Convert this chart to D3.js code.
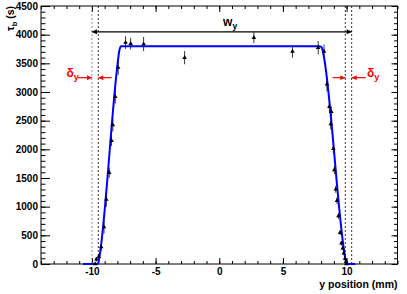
<!DOCTYPE html>
<html>
<head>
<meta charset="utf-8">
<script src="https://cdn.jsdelivr.net/npm/d3@7"></script>
<style>
  html, body { margin: 0; padding: 0; background: #fff; }
  svg { display: block; }
  text { font-family: "Liberation Sans", Arial, Helvetica, sans-serif; font-weight: bold; }
</style>
</head>
<body>
<svg id="chart" width="407" height="294"></svg>
<script>
// ---------- data ----------
const xTicksMajor = [-10, -5, 0, 5, 10];
const yTicksMajor = [0, 500, 1000, 1500, 2000, 2500, 3000, 3500, 4000, 4500];

const ptX = [-9.75, -9.65, -9.46, -9.27, -9.05, -8.87, -8.64, -8.46, -8.36, -8.17, -7.94,
             -7.36, -6.96, -5.94, -2.72, 2.72, 5.75, 7.77, 8.23,
             8.46, 8.65, 8.8, 8.76, 8.96, 9.04, 9.15, 9.25, 9.36, 9.49, 9.59, 9.70, 9.78, 9.88, 9.96, 9.98];
const ptY = [0, 82, 130, 296, 645, 1128, 1593, 2150, 2424, 2918, 3427,
             3863, 3843, 3837, 3599, 3947, 3709, 3773, 3709,
             3137, 2744, 2657, 2442, 2012, 1640, 1303, 1104, 837, 546, 361, 274, 187, 99, 40, 0];
const ptErr = [20, 40, 50, 70, 110, 130, 90, 90, 110, 120, 130,
               110, 100, 125, 115, 95, 110, 115, 120,
               125, 100, 90, 90, 80, 70, 60, 60, 50, 40, 40, 35, 30, 30, 25, 20];

// fit curve knots
const fitX = [-10.7, -9.6, -9.5, -9.42, -7.98, -7.85, -7.7, 7.9, 8.05, 8.18, 9.88, 9.97, 10.05, 10.7];
const fitY = [0, 0, 15, 110, 3500, 3720, 3800, 3800, 3780, 3660, 120, 15, 0, 0];

// annotation lines (mm)
const edgeLines = [-10.0, -9.5, 9.9, 10.4];
const wyRange = [-10.0, 10.4];
const wyLevel = 4050;
const deltaLevel = 3250;

// ---------- setup ----------
const svg = d3.select("#chart");
const x = d3.scaleLinear().domain([-14, 14]).range([41, 397.5]);
const y = d3.scaleLinear().domain([0, 4500]).range([264, 6]);
const L = x.range()[0], R = x.range()[1], T = y.range()[1], B = y.range()[0];

const defs = svg.append("defs");
function marker(id, color, w, h) {
  defs.append("marker").attr("id", id).attr("viewBox", "0 0 10 10")
    .attr("refX", 10).attr("refY", 5).attr("markerWidth", w).attr("markerHeight", h)
    .attr("markerUnits", "userSpaceOnUse").attr("orient", "auto")
    .append("path").attr("d", "M0,0L10,5L0,10Z").attr("fill", color);
}
marker("arrK", "#000", 6, 5);
marker("arrR", "#f00", 6, 5);

// ---------- axes ----------
const minorX = d3.range(-14, 15, 1);
const minorY = d3.range(0, 4501, 100);

// bottom
const gB = svg.append("g").attr("transform", `translate(0,${B})`);
gB.call(d3.axisBottom(x).tickValues(minorX).tickSize(-3).tickFormat(""));
gB.call(g => g.select(".domain").remove());
const gB2 = svg.append("g").attr("transform", `translate(0,${B})`);
gB2.call(d3.axisBottom(x).tickValues(xTicksMajor).tickSize(-6).tickPadding(4).tickFormat(d => String(d)));
gB2.select(".domain").remove();
gB2.selectAll("text").attr("font-size", 10).attr("fill", "#000");

// top
const gT = svg.append("g").attr("transform", `translate(0,${T})`);
gT.call(d3.axisTop(x).tickValues(minorX).tickSize(-3).tickFormat(""));
gT.select(".domain").remove();
const gT2 = svg.append("g").attr("transform", `translate(0,${T})`);
gT2.call(d3.axisTop(x).tickValues(xTicksMajor).tickSize(-6).tickFormat(""));
gT2.select(".domain").remove();

// left
const gL = svg.append("g").attr("transform", `translate(${L},0)`);
gL.call(d3.axisLeft(y).tickValues(minorY).tickSize(-4.5).tickFormat(""));
gL.select(".domain").remove();
const gL2 = svg.append("g").attr("transform", `translate(${L},0)`);
gL2.call(d3.axisLeft(y).tickValues(yTicksMajor).tickSize(-9).tickPadding(3).tickFormat(d => String(d)));
gL2.select(".domain").remove();
gL2.selectAll("text").attr("font-size", 10).attr("fill", "#000");

// right
const gR = svg.append("g").attr("transform", `translate(${R},0)`);
gR.call(d3.axisRight(y).tickValues(minorY).tickSize(-3.5).tickFormat(""));
gR.select(".domain").remove();
const gR2 = svg.append("g").attr("transform", `translate(${R},0)`);
gR2.call(d3.axisRight(y).tickValues(yTicksMajor).tickSize(-6).tickFormat(""));
gR2.select(".domain").remove();

svg.selectAll(".tick line").attr("stroke", "#000").attr("stroke-width", 1);

// frame
svg.append("rect").attr("x", L).attr("y", T).attr("width", R - L).attr("height", B - T)
  .attr("fill", "none").attr("stroke", "#000").attr("stroke-width", 1);

// axis titles
svg.append("text").attr("x", R).attr("y", 288).attr("text-anchor", "end")
  .attr("font-size", 10.5).text("y position (mm)");
const yt = svg.append("text").attr("transform", `translate(14,${T}) rotate(-90)`)
  .attr("text-anchor", "end").attr("font-size", 10.5);
yt.append("tspan").text("τ");
yt.append("tspan").attr("font-size", 7.5).attr("dy", 3).text("b");
yt.append("tspan").attr("dy", -3).text(" (s)");

// ---------- dashed edge lines ----------
svg.selectAll("line.edge").data(edgeLines).join("line").attr("class", "edge")
  .attr("x1", d => x(d)).attr("x2", d => x(d)).attr("y1", T).attr("y2", B)
  .attr("stroke", (d, i) => i === 0 ? "#777" : "#000").attr("stroke-width", 0.8)
  .attr("stroke-dasharray", "2,2");

// ---------- w_y arrow ----------
svg.append("line").attr("x1", x(0)).attr("x2", x(wyRange[0])).attr("y1", y(wyLevel)).attr("y2", y(wyLevel))
  .attr("stroke", "#000").attr("stroke-width", 1.2).attr("marker-end", "url(#arrK)");
svg.append("line").attr("x1", x(0)).attr("x2", x(wyRange[1])).attr("y1", y(wyLevel)).attr("y2", y(wyLevel))
  .attr("stroke", "#000").attr("stroke-width", 1.2).attr("marker-end", "url(#arrK)");
const wt = svg.append("text").attr("x", x(0.3)).attr("y", y(wyLevel) - 6).attr("font-size", 12);
wt.append("tspan").text("w");
wt.append("tspan").attr("font-size", 8.5).attr("dy", 3).text("y");

// ---------- delta_y arrows ----------
const dArrows = [[-11.1, -10.0], [-8.45, -9.5], [8.9, 9.9], [11.5, 10.4]];
svg.selectAll("line.darr").data(dArrows).join("line").attr("class", "darr")
  .attr("x1", d => x(d[0])).attr("x2", d => x(d[1]))
  .attr("y1", y(deltaLevel)).attr("y2", y(deltaLevel))
  .attr("stroke", "#f00").attr("stroke-width", 1.2).attr("marker-end", "url(#arrR)");
[[-12.0], [11.6]].forEach(([px]) => {
  const t = svg.append("text").attr("x", x(px)).attr("y", y(deltaLevel) - 1)
    .attr("font-size", 12).attr("fill", "#f00").attr("font-weight", "normal");
  t.append("tspan").text("δ");
  t.append("tspan").attr("font-size", 9).attr("dy", 3).text("y");
});

// ---------- data points ----------
const pts = ptX.map((d, i) => ({ x: d, y: ptY[i], e: ptErr[i] }));
svg.selectAll("line.err").data(pts).join("line").attr("class", "err")
  .attr("x1", d => x(d.x)).attr("x2", d => x(d.x))
  .attr("y1", d => y(Math.max(0, d.y - d.e))).attr("y2", d => y(d.y + d.e))
  .attr("stroke", "#000").attr("stroke-width", 0.8);

// ---------- fit curve ----------
const fit = fitX.map((d, i) => [d, fitY[i]]);
svg.append("path").datum(fit)
  .attr("d", d3.line().x(d => x(d[0])).y(d => y(d[1])).curve(d3.curveMonotoneX))
  .attr("fill", "none").attr("stroke", "#0000ff").attr("stroke-width", 2);

svg.selectAll("path.pt").data(pts).join("path").attr("class", "pt")
  .attr("transform", d => `translate(${x(d.x)},${y(d.y)})`)
  .attr("d", d3.symbol(d3.symbolTriangle, 9))
  .attr("fill", "#000");
</script>
</body>
</html>
